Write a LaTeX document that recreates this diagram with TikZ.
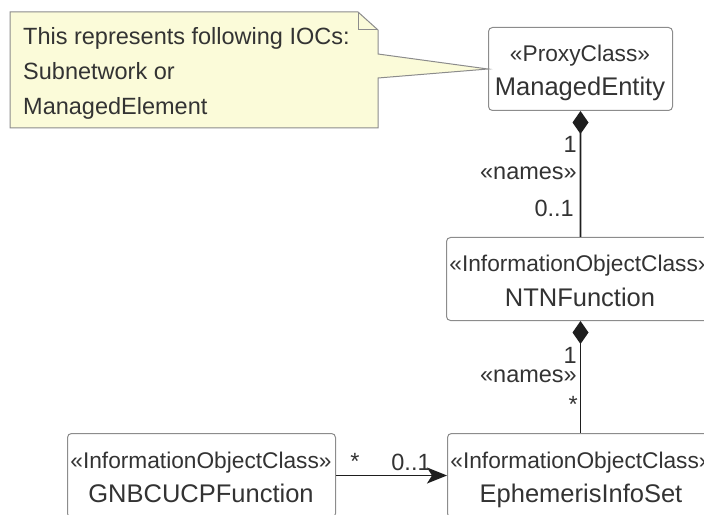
\documentclass[tikz,border=0pt]{standalone}
\usepackage{fontspec}
\setmainfont{Liberation Sans}
\usetikzlibrary{arrows.meta}
\definecolor{txt}{HTML}{333333}
\definecolor{bord}{HTML}{8C8C8C}
\definecolor{notefill}{HTML}{FBFBD9}
\definecolor{linec}{HTML}{1E1E1E}
\begin{document}
\begin{tikzpicture}[x=1bp,y=-1bp,
  classbox/.style={draw=bord, line width=1bp, rounded corners=4bp, fill=white,
    minimum width=#1, inner sep=0pt, anchor=north west},
  stereo/.style={text=txt, font=\fontsize{22.7bp}{27bp}\selectfont, inner sep=0pt, anchor=base},
  cname/.style={text=txt, font=\fontsize{25.5bp}{30bp}\selectfont, inner sep=0pt, anchor=base},
  lbl/.style={text=txt, font=\fontsize{23.5bp}{28bp}\selectfont, inner sep=0pt},
  conn/.style={draw=linec, line width=1.6bp},
  notestyle/.style={draw=bord, line width=1bp, fill=notefill, line join=miter},
]
\useasboundingbox (0,0) rectangle (704,515);
\clip (0,0) rectangle (704,515);

% class boxes
\node[classbox=184bp, minimum height=83bp] (me)  at (488,27) {};
\node[classbox=268bp, minimum height=83bp] (ntn) at (446,237) {};
\node[classbox=268bp, minimum height=84bp] (gnb) at (67,433) {};
\node[classbox=268bp, minimum height=84bp] (eph) at (447,433) {};

% class texts
\node[stereo] (meS)  at (580,62)  {«ProxyClass»};
\node[cname]  (meN)  at (580,96)  {ManagedEntity};
\node[stereo] (ntnS) at (580,272) {«InformationObjectClass»};
\node[cname]  (ntnN) at (580,306) {NTNFunction};
\node[stereo] (gnbS) at (201,468) {«InformationObjectClass»};
\node[cname]  (gnbN) at (201,502) {GNBCUCPFunction};
\node[stereo] (ephS) at (581,468) {«InformationObjectClass»};
\node[cname]  (ephN) at (581,502) {EphemerisInfoSet};

% note with pointer
\draw[notestyle] (10,12) -- (358,12) -- (378,30) -- (378,54) -- (me.west)
  -- (378,78) -- (378,128) -- (10,128) -- cycle;
\draw[draw=bord, line width=1bp] (358,12) -- (358,30) -- (378,30);
\node[lbl, anchor=base west] (n1) at (23,45)  {This represents following IOCs:};
\node[lbl, anchor=base west] (n2) at (23,80)  {Subnetwork or};
\node[lbl, anchor=base west] (n3) at (23,115) {ManagedElement};

% compositions
\draw[conn, {Diamond[length=23bp,width=16bp]}-] (me.south) -- (ntn.north);
\draw[conn, {Diamond[length=23bp,width=16bp]}-] (ntn.south) -- (eph.north -| ntn.south);

\node[lbl, anchor=base east] (l1)  at (577,153) {1};
\node[lbl, anchor=base east] (l2)  at (577,180) {«names»};
\node[lbl, anchor=base east] (l3)  at (574,217) {0..1};
\node[lbl, anchor=base east] (l4)  at (577,363) {1};
\node[lbl, anchor=base east] (l5)  at (577,382) {«names»};
\node[lbl, anchor=base east] (l6)  at (578,412) {*};

% association
\draw[conn, -{Stealth[length=20bp,width=16bp,inset=5bp]}] (gnb.east) -- (eph.west);
\node[lbl, anchor=base] (l7) at (355,469) {*};
\node[lbl, anchor=base] (l8) at (411,470) {0..1};
\end{tikzpicture}
\end{document}
